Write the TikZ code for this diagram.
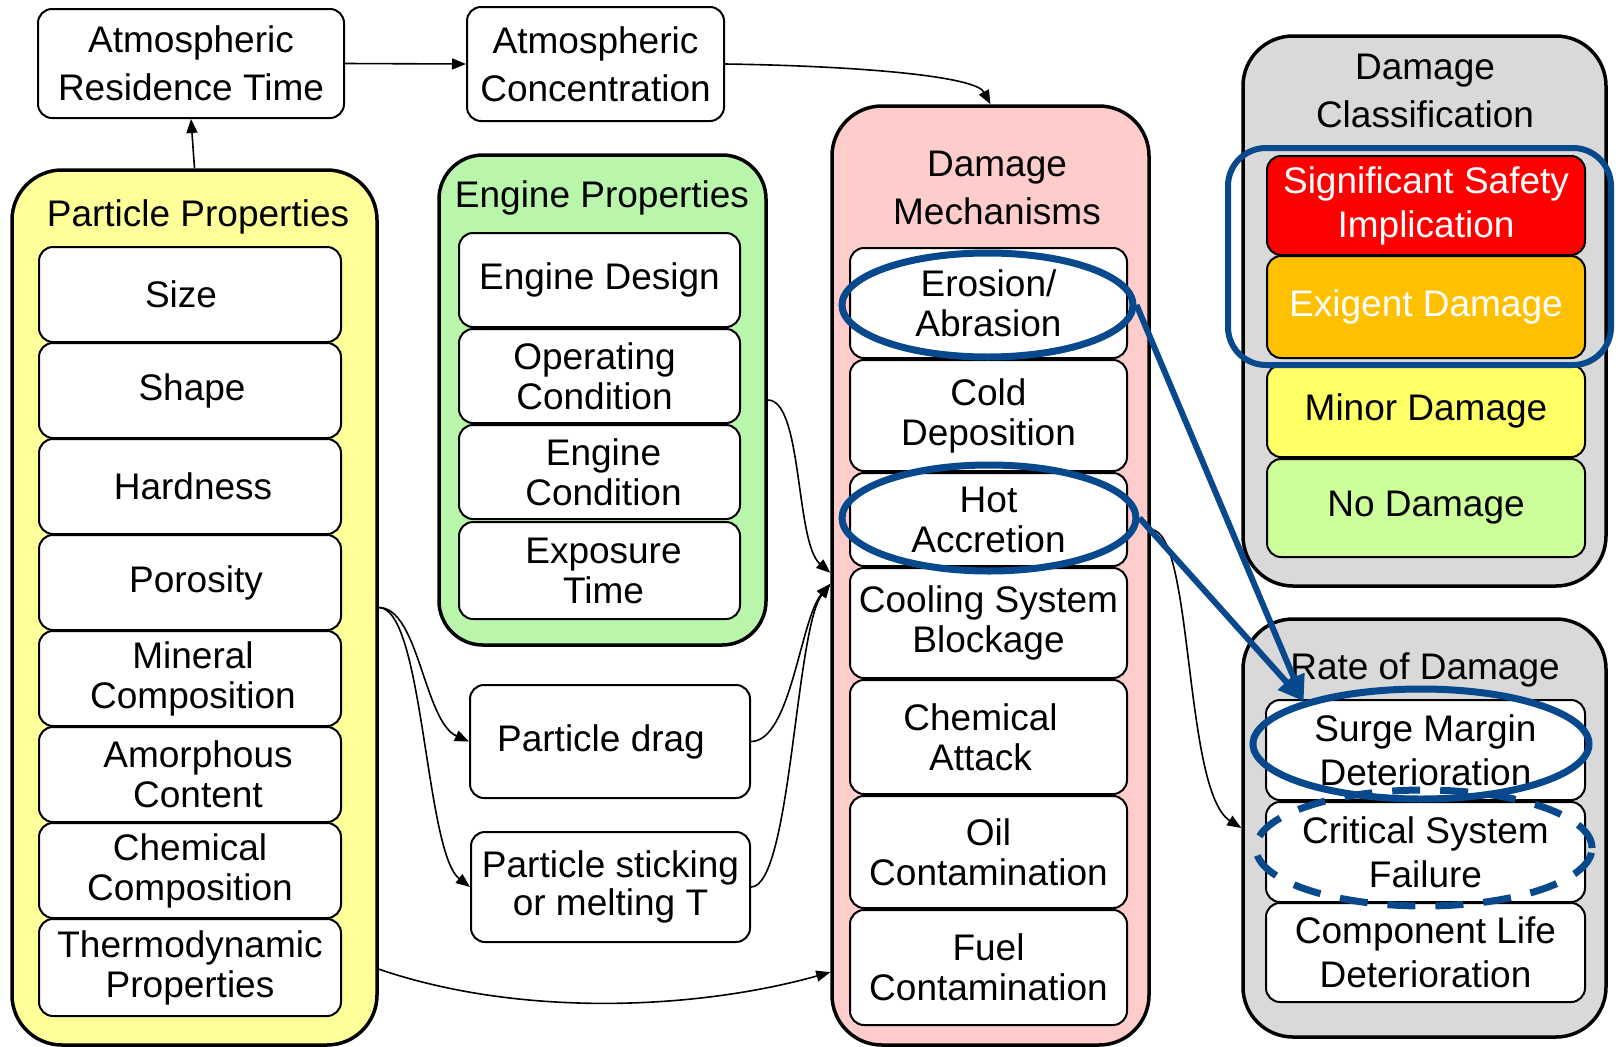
\documentclass[tikz,border=0pt]{standalone}
\usepackage{fontspec}
\setmainfont{Liberation Sans}
\usetikzlibrary{arrows.meta,shapes.geometric}
\definecolor{ppY}{HTML}{FFFF99}
\definecolor{epG}{HTML}{B9F6AB}
\definecolor{dmP}{HTML}{FFCCCC}
\definecolor{gryC}{HTML}{D9D9D9}
\definecolor{sRed}{HTML}{FF0000}
\definecolor{sOrange}{HTML}{FFC000}
\definecolor{sYellow}{HTML}{FFFF66}
\definecolor{sGreen}{HTML}{CCFF99}
\definecolor{dblue}{RGB}{8,72,140}
\newcommand{\mkbox}[7]{%
 \pgfmathsetmacro{\mkcx}{(#2+#4)/2}%
 \pgfmathsetmacro{\mkcy}{(#3+#5)/2}%
 \pgfmathsetmacro{\mkw}{#4-#2}%
 \pgfmathsetmacro{\mkh}{#5-#3}%
 \node[#6, minimum width=\mkw pt, minimum height=\mkh pt] (#1) at (\mkcx,\mkcy) {#7};}
\newcommand{\rs}[1]{\hspace*{#1pt}}
\begin{document}
\begin{tikzpicture}[x=1pt,y=-1pt,
  every node/.style={font=\fontsize{37}{48}\selectfont},
  ls/.style={font=\fontsize{37}{#1}\selectfont},
  cont/.style={draw, line width=3.5pt, rounded corners=50pt, inner sep=0pt},
  ib/.style={draw, line width=2pt, fill=white, rounded corners=14pt, align=center, inner sep=0pt, ls=40},
  ttl/.style={align=center, inner sep=0pt},
  arr/.style={line width=1.6pt, -{Triangle[length=14pt,width=11pt]}},
  barr/.style={draw=dblue, line width=6pt, -{Triangle[length=26pt,width=22pt]}},
  bell/.style={draw=dblue, line width=7pt, ellipse, inner sep=0pt},
]
\useasboundingbox[fill=white] (0,0) rectangle (1618,1047);

% top boxes
\mkbox{art}{38}{9}{344}{118}{ib, ls=48}{Atmospheric\\Residence Time}
\mkbox{ac}{467}{7}{724}{121}{ib, ls=48}{Atmospheric\\Concentration}

% containers
\mkbox{pp}{12}{170}{377}{1045}{cont, fill=ppY}{}
\mkbox{ep}{439}{155}{766}{645}{cont, fill=epG, rounded corners=44pt}{}
\mkbox{dm}{832}{106}{1149}{1045}{cont, fill=dmP}{}
\mkbox{dc}{1243}{36}{1606}{586}{cont, fill=gryC}{}
\mkbox{rod}{1243}{619}{1606}{1037}{cont, fill=gryC}{}

% titles
\node[ttl] (ppT) at (198,217) {Particle Properties};
\node[ttl] (epT) at (602,198) {Engine Properties};
\node[ttl] (dmT) at (997,188) {Damage\\Mechanisms};
\node[ttl] (dcT) at (1425,91) {Damage\\Classification};
\node[ttl] (rodT) at (1425,670) {Rate of Damage};

% particle properties
\mkbox{size}{39}{247}{341}{342}{ib}{Size\rs{18}}
\mkbox{shape}{39}{343}{341}{438}{ib}{\rs{4}Shape}
\mkbox{hard}{39}{439}{341}{534}{ib}{\rs{6}Hardness}
\mkbox{poro}{39}{535}{341}{630}{ib}{\rs{12}Porosity}
\mkbox{mine}{39}{631}{341}{726}{ib}{\rs{6}Mineral\\\rs{6}Composition}
\mkbox{amor}{39}{727}{341}{822}{ib}{\rs{16}Amorphous\\\rs{16}Content}
\mkbox{chco}{39}{823}{341}{918}{ib}{Chemical\\Composition}
\mkbox{thermo}{39}{919}{341}{1016}{ib}{Thermodynamic\\Properties}

% engine properties
\mkbox{ed}{459}{233}{740}{327}{ib}{Engine Design}
\mkbox{oc}{459}{329}{740}{423}{ib}{Operating\rs{10}\\Condition\rs{10}}
\mkbox{ec}{459}{425}{740}{519}{ib}{\rs{8}Engine\\\rs{8}Condition}
\mkbox{et}{459}{522}{740}{619}{ib}{\rs{8}Exposure\\\rs{8}Time}

% particle drag / sticking
\mkbox{pd}{470}{685}{750}{798}{ib}{Particle drag\rs{18}}
\mkbox{ps}{471}{832}{750}{942}{ib, ls=38}{Particle sticking\\or melting T}

% damage mechanisms
\mkbox{ero}{850}{248}{1127}{358}{ib}{Erosion/\\Abrasion}
\mkbox{cold}{850}{360}{1127}{471}{ib}{Cold\\Deposition}
\mkbox{hot}{850}{473}{1127}{566}{ib}{Hot\\Accretion}
\mkbox{cool}{850}{568}{1127}{678}{ib}{Cooling System\\Blockage}
\mkbox{chat}{850}{680}{1127}{794}{ib}{Chemical\rs{16}\\Attack\rs{16}}
\mkbox{oil}{850}{796}{1127}{908}{ib}{Oil\\Contamination}
\mkbox{fuel}{850}{910}{1127}{1025}{ib}{Fuel\\Contamination}

% damage classification
\mkbox{ssi}{1267}{156}{1585}{255}{ib, ls=44, fill=sRed, text=white}{Significant Safety\\Implication}
\mkbox{exi}{1267}{256}{1585}{358}{ib, fill=sOrange, text=white}{Exigent Damage}
\mkbox{mino}{1267}{365}{1585}{457}{ib, fill=sYellow}{Minor Damage}
\mkbox{nodm}{1267}{459}{1585}{557}{ib, fill=sGreen}{No Damage}

% rate of damage
\mkbox{smd}{1266}{700}{1585}{800}{ib, ls=44}{Surge Margin\\Deterioration}
\mkbox{csf}{1266}{802}{1585}{902}{ib, ls=44}{Critical System\\Failure}
\mkbox{cld}{1266}{903}{1585}{1002}{ib, ls=44}{Component Life\\Deterioration}

% black connectors
\draw[arr] (pp.north) -- (art.south);
\draw[arr] (art.east) -- (ac.west);
\draw[arr] (ac.east) .. controls +(136,2) and +(-15,-28) .. (dm.north);
\draw[arr] (ep.east) .. controls +(35,0) and +(-35,-30) .. (dm.179);
\draw[arr] (pd.east) .. controls +(40,0) and +(-30,35) .. (dm.183);
\draw[arr] (ps.east) .. controls +(40,0) and +(-35,45) .. (dm.183);
\draw[arr] (pp.east) .. controls +(40,0) and +(-45,-20) .. (pd.west);
\draw[arr] (pp.east) .. controls +(45,0) and +(-45,-35) .. (ps.west);
\draw[arr] (pp.-63.4) .. controls +(143,49) and +(-132,37) .. (dm.248.5);
\draw[arr] (dm.16.7) .. controls +(43,0) and +(-58,-37) .. (rod.west);

% blue highlights
\mkbox{hl}{1228}{148}{1611}{365}{draw=dblue, line width=6pt, rounded corners=38pt, inner sep=0pt}{}
\node[bell, minimum width=291pt, minimum height=104pt] (eroE) at (987.5,305) {};
\node[bell, minimum width=294pt, minimum height=106pt] (hotE) at (989,518) {};
\node[bell, minimum width=336pt, minimum height=110pt] (smdE) at (1421,744) {};
\node[bell, dash pattern=on 28pt off 20pt, minimum width=336pt, minimum height=116pt] (csfE) at (1424,848) {};
\draw[barr] (eroE.east) -- (smdE.160);
\draw[barr] (hotE.east) -- (smdE.160);
\end{tikzpicture}
\end{document}
